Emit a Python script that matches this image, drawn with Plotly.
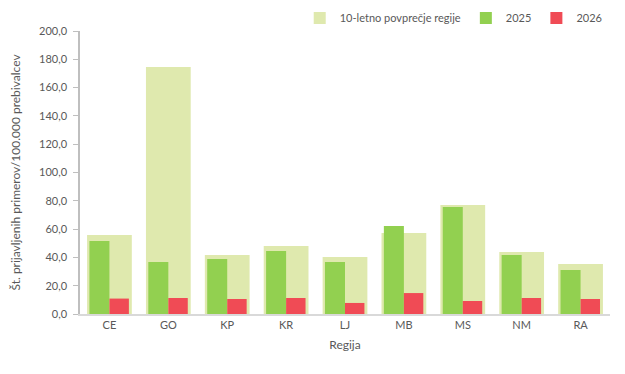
import plotly.graph_objects as go

regions = ["CE", "GO", "KP", "KR", "LJ", "MB", "MS", "NM", "RA"]
avg10 = [55.8, 174.6, 41.7, 48.1, 40.3, 57.2, 77.0, 43.8, 35.3]
y2025 = [51.6, 36.7, 38.9, 44.5, 36.7, 62.2, 75.6, 41.7, 31.1]
y2026 = [10.9, 11.3, 10.6, 11.3, 7.8, 14.8, 9.2, 11.3, 10.6]
yticks = [0, 20, 40, 60, 80, 100, 120, 140, 160, 180, 200]

font_family = "Lato, 'Open Sans', sans-serif"
text_color = "#595959"

fig = go.Figure()
fig.add_trace(go.Bar(x=regions, y=avg10, name="10-letno povprečje regije",
                     marker=dict(color="#dfe9ae", line=dict(width=0)),
                     width=0.76, offset=-0.38))
fig.add_trace(go.Bar(x=regions, y=y2025, name="2025",
                     marker=dict(color="#92d050", line=dict(width=0)),
                     width=0.34, offset=-0.34))
fig.add_trace(go.Bar(x=regions, y=y2026, name="2026",
                     marker=dict(color="#f04b55", line=dict(width=0)),
                     width=0.33, offset=0.0))

fig.update_layout(
    width=617, height=366,
    barmode="overlay",
    separators=",.",
    plot_bgcolor="white", paper_bgcolor="white",
    margin=dict(l=72, r=15, t=23, b=60, autoexpand=False),
    font=dict(family=font_family, size=11, color=text_color),
    showlegend=True,
    legend=dict(orientation="h", yref="container", xref="container",
                x=0.972, xanchor="right", y=0.973, yanchor="middle",
                font=dict(size=11, color=text_color),
                itemwidth=30, traceorder="normal", bgcolor="rgba(0,0,0,0)"),
    xaxis=dict(showline=True, linecolor="#d9d9d9", linewidth=1.5, ticks="",
               showgrid=False, tickfont=dict(size=11, color=text_color),
               title=dict(text="Regija", font=dict(size=12, color=text_color), standoff=11)),
    yaxis=dict(range=[0, 200], tickvals=yticks, tickformat=".1f",
               showline=True, linecolor="#bfbfbf", linewidth=1.5,
               ticks="outside", ticklen=5, tickcolor="#bfbfbf",
               ticklabelstandoff=4,
               showgrid=False, zeroline=False, automargin=False,
               tickfont=dict(size=11, color=text_color),
               title=dict(text="Št. prijavljenih primerov/100.000 prebivalcev",
                          font=dict(size=12, color=text_color), standoff=18)),
)
fig.update_traces(hoverinfo="skip")
fig.write_html("out.html")
